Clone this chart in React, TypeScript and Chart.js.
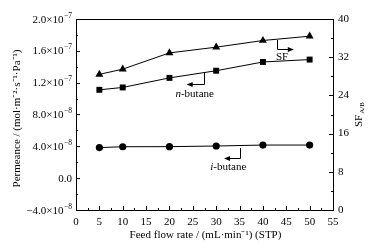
import React, { useEffect, useRef } from "react";
import { Chart, registerables } from "chart.js";

Chart.register(...registerables);

const flowRates = [5, 10, 20, 30, 40, 50];
const nButane = [1.11e-7, 1.14e-7, 1.26e-7, 1.35e-7, 1.46e-7, 1.49e-7];
const iButane = [3.84e-8, 3.95e-8, 3.96e-8, 4.04e-8, 4.16e-8, 4.16e-8];
const sfValues = [28.4, 29.5, 32.9, 34.1, 35.5, 36.4];

const yTickValues = [-4e-8, 0, 4e-8, 8e-8, 1.2e-7, 1.6e-7, 2e-7];
const yTickMantissa = ["\u22124.0\u00d710", "0.0", "4.0\u00d710", "8.0\u00d710", "1.2\u00d710", "1.6\u00d710", "2.0\u00d710"];
const yTickExponent = ["\u22128", "", "\u22128", "\u22128", "\u22127", "\u22127", "\u22127"];
const y1TickLabels = ["0", "8", "16", "24", "32", "40"];
const xTitle = "Feed flow rate / (mL\u00b7min\u207b\u00b9) (STP)";
const yTitle = "Permeance / (mol\u00b7m\u207b\u00b2\u00b7s\u207b\u00b9\u00b7Pa\u207b\u00b9)";

const FONT = "'Liberation Serif', 'Times New Roman', serif";

const deco = {
  id: "deco",
  afterDraw(chart: any) {
    const { ctx, chartArea, scales } = chart;
    const { left, right, top, bottom } = chartArea;
    const x = scales.x, y = scales.y, y1 = scales.y1;
    ctx.save();
    ctx.strokeStyle = "#000";
    ctx.fillStyle = "#000";
    ctx.lineWidth = 1;
    ctx.strokeRect(Math.round(left) + 0.5, Math.round(top) + 0.5, Math.round(right - left), Math.round(bottom - top));
    ctx.beginPath();
    for (let v = 0; v <= 55.001; v += 2.5) {
      const px = Math.round(x.getPixelForValue(v)) + 0.5;
      const len = Math.abs(v % 5) < 0.01 ? 4 : 2;
      ctx.moveTo(px, bottom);
      ctx.lineTo(px, bottom - len);
    }
    for (let i = 0; i <= 12; i++) {
      const v = -4e-8 + i * 2e-8;
      const py = Math.round(y.getPixelForValue(v)) + 0.5;
      const len = i % 2 === 0 ? 4 : 2;
      ctx.moveTo(left, py);
      ctx.lineTo(left + len, py);
    }
    for (let i = 0; i <= 10; i++) {
      const v = i * 4;
      const py = Math.round(y1.getPixelForValue(v)) + 0.5;
      const len = i % 2 === 0 ? 4 : 2;
      ctx.moveTo(right, py);
      ctx.lineTo(right - len, py);
    }
    ctx.stroke();

    // left tick labels with superscripts
    ctx.textBaseline = "alphabetic";
    yTickValues.forEach((v, i) => {
      const py = y.getPixelForValue(v);
      const base = py + 3.5;
      ctx.font = `7.5px ${FONT}`;
      const we = yTickExponent[i] ? ctx.measureText(yTickExponent[i]).width : 0;
      ctx.textAlign = "right";
      let xr = left - 4;
      if (we) {
        ctx.fillText(yTickExponent[i], xr, base - 5);
        xr -= we + 0.5;
      }
      ctx.font = `11px ${FONT}`;
      ctx.fillText(yTickMantissa[i], xr, base);
    });

    const arrow = (x0: number, y0: number, y1p: number, x1: number) => {
      ctx.beginPath();
      ctx.moveTo(x0, y0);
      ctx.lineTo(x0, y1p);
      ctx.lineTo(x1, y1p);
      ctx.stroke();
      const dir = x1 > x0 ? 1 : -1;
      ctx.beginPath();
      ctx.moveTo(x1 + dir * 1, y1p);
      ctx.lineTo(x1 - dir * 5, y1p - 2.5);
      ctx.lineTo(x1 - dir * 5, y1p + 2.5);
      ctx.closePath();
      ctx.fill();
    };
    arrow(Math.round(x.getPixelForValue(43.0)) + 0.5, y1.getPixelForValue(35.6), Math.round(y1.getPixelForValue(33.7)) + 0.5, x.getPixelForValue(46.4));
    arrow(Math.round(x.getPixelForValue(27.4)) + 0.5, y.getPixelForValue(1.323e-7), Math.round(y.getPixelForValue(1.185e-7)) + 0.5, x.getPixelForValue(23.9));
    arrow(Math.round(x.getPixelForValue(35.1)) + 0.5, y.getPixelForValue(3.8e-8), Math.round(y.getPixelForValue(2.54e-8)) + 0.5, x.getPixelForValue(31.9));

    ctx.textBaseline = "middle";
    ctx.font = `11px ${FONT}`;
    ctx.textAlign = "center";
    ctx.fillText("SF", x.getPixelForValue(44.1), y1.getPixelForValue(32.0));

    const italicLabel = (ital: string, rest: string, cx: number, cy: number) => {
      ctx.font = `italic 11px ${FONT}`;
      const w1 = ctx.measureText(ital).width;
      ctx.font = `11px ${FONT}`;
      const w2 = ctx.measureText(rest).width;
      const sx = cx - (w1 + w2) / 2;
      ctx.textAlign = "left";
      ctx.font = `italic 11px ${FONT}`;
      ctx.fillText(ital, sx, cy);
      ctx.font = `11px ${FONT}`;
      ctx.fillText(rest, sx + w1, cy);
    };
    italicLabel("n", "-butane", x.getPixelForValue(25.4), y.getPixelForValue(1.05e-7));
    italicLabel("i", "-butane", x.getPixelForValue(32.6), y.getPixelForValue(1.45e-8));

    ctx.font = `11px ${FONT}`;
    ctx.textAlign = "center";
    ctx.fillText(xTitle, (left + right) / 2 + 1, 235);

    ctx.save();
    ctx.translate(17, (top + bottom) / 2 + 4);
    ctx.rotate(-Math.PI / 2);
    ctx.fillText(yTitle, 0, 0);
    ctx.restore();

    ctx.save();
    ctx.translate(359, 127);
    ctx.rotate(-Math.PI / 2);
    ctx.textAlign = "left";
    ctx.font = `11px ${FONT}`;
    const wsf = ctx.measureText("SF").width;
    ctx.fillText("SF", 0, 0);
    ctx.font = `7px ${FONT}`;
    ctx.fillText("A/B", wsf + 1, 3);
    ctx.restore();

    ctx.restore();
  },
};

export default function App() {
  const ref = useRef<HTMLCanvasElement>(null);
  useEffect(() => {
    document.body.style.margin = "0";
    const common = { borderColor: "#000", backgroundColor: "#000", borderWidth: 1, pointBorderWidth: 0, pointHoverRadius: 0 } as any;
    const chart = new Chart(ref.current!, {
      type: "line",
      data: {
        datasets: [
          { ...common, label: "SF", yAxisID: "y1", data: flowRates.map((f, i) => ({ x: f, y: sfValues[i] })), pointStyle: "triangle", pointRadius: 4.6 },
          { ...common, label: "n-butane", yAxisID: "y", data: flowRates.map((f, i) => ({ x: f, y: nButane[i] })), pointStyle: "rect", pointRadius: 4.2 },
          { ...common, label: "i-butane", yAxisID: "y", data: flowRates.map((f, i) => ({ x: f, y: iButane[i] })), pointStyle: "circle", pointRadius: 3.6 },
        ],
      },
      options: {
        animation: false,
        responsive: false,
        devicePixelRatio: 1,
        layout: { padding: { top: 19, left: 0, right: 0, bottom: 0 } },
        plugins: { legend: { display: false }, tooltip: { enabled: false } },
        events: [],
        scales: {
          x: {
            type: "linear",
            min: 0,
            max: 55,
            grid: { display: false, drawTicks: false },
            border: { display: false },
            ticks: { stepSize: 5, color: "#000", font: { family: FONT, size: 11 }, padding: 6, maxRotation: 0, autoSkip: false },
            afterFit: (s: any) => { s.height = 38; },
          },
          y: {
            type: "linear",
            position: "left",
            min: -4e-8,
            max: 2e-7,
            grid: { display: false, drawTicks: false },
            border: { display: false },
            ticks: { stepSize: 4e-8, display: false },
            afterFit: (s: any) => { s.width = 76; },
          },
          y1: {
            type: "linear",
            position: "right",
            min: 0,
            max: 40,
            grid: { display: false, drawTicks: false },
            border: { display: false },
            ticks: { stepSize: 8, color: "#000", font: { family: FONT, size: 11 }, padding: 5, callback: (_v: any, i: number) => y1TickLabels[i] },
            afterFit: (s: any) => { s.width = 47; },
          },
        },
      } as any,
      plugins: [deco],
    });
    return () => chart.destroy();
  }, []);
  return (
    <div style={{ width: 380, height: 248, background: "#fff" }}>
      <canvas ref={ref} width={380} height={248} style={{ display: "block" }} />
    </div>
  );
}
